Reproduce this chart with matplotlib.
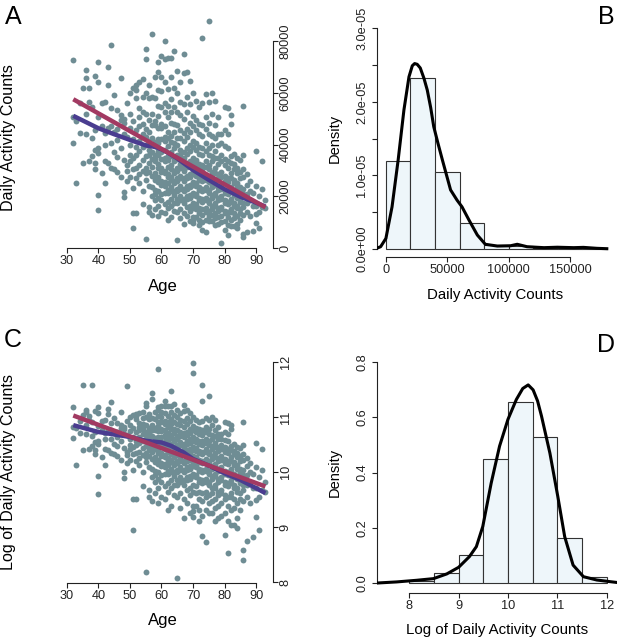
import numpy as np
import matplotlib
matplotlib.use("Agg")
import matplotlib.pyplot as plt

plt.rcParams['font.family'] = ['Liberation Sans', 'DejaVu Sans']

ages = list(range(32, 94))
counts_k = [
    [72.5, 50.5, 40.8],                                   # 32
    [25.3, 49.0],                                         # 33
    [56.0, 44.5],                                         # 34
    [108.0, 62.0, 33.0],                                  # 35
    [68.8, 65.8, 44.0, 52.0],                             # 36
    [61.7, 56.6, 33.5],                                   # 37
    [108.0, 54.7, 42.4, 35.5],                            # 38
    [66.5, 32.8, 45.5, 38.0, 30.5],                       # 39
    [72.0, 64.3, 50.8, 38.6, 36.7, 20.6, 14.8],           # 40
    [56.0, 47.0, 29.0],                                   # 41
    [56.6, 25.0, 44.5, 33.5, 40.0],                       # 42
    [70.0, 63.0, 46.3, 32.8],                             # 43
    [78.4, 47.0, 40.5, 54.0, 31.0],                       # 44
    [59.0, 37.0, 30.5, 45.0],                             # 45
    [53.4, 46.0, 41.8, 35.4, 29.6],                       # 46
    [65.6, 51.5, 38.5, 27.5, 49.5],                       # 47
    [50.0, 48.5, 34.0, 21.9, 19.9, 44.0],                 # 48
    [105.0, 56.0, 43.0, 32.0, 30.0, 26.0],                # 49
    [60.0, 52.0, 40.0, 33.5, 27.5, 46.5, 36.0],           # 50
    [62.0, 49.0, 35.0, 23.1, 13.5, 7.7, 30.5, 42.0],      # 51
    [63.0, 61.0, 58.0, 39.0, 36.0, 27.0, 13.5, 45.5, 31.0],
    [64.0, 54.0, 47.0, 41.5, 37.5, 32.0, 28.5, 25.0, 50.5],
    [65.5, 58.5, 52.5, 44.0, 39.0, 34.0, 30.0, 22.0, 17.0, 48.0],
    [77.0, 73.0, 60.0, 52.0, 46.0, 43.0, 35.5, 31.0, 26.5, 3.6, 40.0, 29.0],
    [63.0, 58.0, 49.5, 45.0, 38.0, 33.0, 29.5, 24.0, 16.0, 14.0, 41.5, 36.0],
    [82.8, 93.0, 58.5, 52.0, 47.5, 42.5, 37.0, 34.5, 31.5, 28.0, 23.5, 20.0, 13.0],
    [66.0, 58.0, 49.0, 47.5, 41.0, 39.5, 36.0, 34.5, 33.5, 29.0, 28.0, 26.5, 22.5, 21.0, 18.5, 15.0],
    [143.0, 72.0, 68.0, 61.0, 55.0, 51.0, 46.5, 42.0, 40.5, 37.5, 36.0, 32.5, 31.0, 27.5, 25.5, 22.0, 19.5, 16.5, 12.5],
    [74.0, 66.0, 60.5, 54.5, 48.0, 46.5, 42.0, 38.0, 37.0, 34.5, 31.0, 29.5, 26.0, 24.5, 21.0, 18.5, 14.0],
    [80.0, 73.0, 64.0, 56.0, 52.5, 47.0, 43.0, 41.5, 38.0, 35.0, 33.5, 30.0, 29.0, 25.5, 24.0, 21.5, 17.0, 13.5],
    [73.5, 61.5, 55.0, 50.5, 45.0, 42.5, 39.5, 35.5, 34.0, 31.5, 28.5, 27.5, 25.0, 22.5, 21.5, 18.0, 15.5, 11.0],
    [97.0, 73.5, 66.0, 57.5, 52.5, 48.5, 43.5, 41.0, 37.0, 35.5, 32.0, 30.5, 27.5, 26.5, 23.5, 22.0, 19.0, 16.5, 12.0],
    [76.0, 62.0, 54.5, 48.0, 45.0, 40.5, 38.5, 35.0, 33.5, 30.0, 29.0, 26.0, 25.0, 22.0, 20.5, 17.5, 14.5],
    [68.5, 60.0, 52.5, 47.5, 42.5, 40.0, 36.0, 34.5, 31.0, 30.0, 27.0, 26.0, 23.0, 22.0, 19.0, 17.5, 14.0, 3.2],
    [64.0, 56.5, 51.5, 45.5, 42.5, 38.0, 36.0, 32.5, 31.0, 28.0, 27.0, 24.0, 23.0, 20.0, 18.5, 15.0, 11.5],
    [75.0, 67.5, 55.5, 50.0, 44.5, 41.5, 37.0, 35.0, 31.5, 30.0, 27.0, 26.0, 23.0, 22.0, 19.0, 17.5, 13.5, 9.5],
    [68.0, 58.5, 52.5, 46.0, 43.0, 38.5, 36.5, 33.0, 31.5, 28.0, 27.0, 24.0, 23.0, 20.0, 19.0, 16.0, 12.5],
    [64.5, 55.5, 48.5, 45.0, 40.0, 37.5, 33.5, 32.0, 28.5, 27.5, 24.5, 23.5, 20.5, 19.5, 16.5, 14.5, 10.5],
    [161.0, 134.0, 60.0, 51.0, 47.0, 41.5, 39.0, 35.0, 33.0, 29.5, 28.5, 25.5, 24.5, 21.5, 20.5, 17.5, 15.5, 12.0, 9.8, 10.8],
    [57.0, 49.5, 45.5, 40.5, 38.0, 34.0, 32.5, 29.0, 28.0, 25.0, 24.0, 21.0, 20.0, 17.0, 15.0, 12.0],
    [54.5, 48.0, 44.0, 39.0, 36.5, 32.5, 31.0, 27.5, 26.5, 23.5, 22.5, 19.5, 18.5, 15.5, 13.5, 11.0, 9.0],
    [108.0, 81.0, 56.0, 47.5, 43.5, 38.5, 36.0, 32.0, 30.5, 27.0, 26.0, 23.0, 22.0, 19.0, 18.0, 15.0, 13.0, 10.0, 6.9],
    [59.5, 50.5, 46.0, 40.5, 37.5, 33.5, 31.5, 28.0, 26.5, 23.5, 22.5, 19.5, 18.5, 15.5, 14.0, 11.0, 6.2],
    [87.7, 56.5, 48.5, 44.0, 38.5, 36.0, 32.0, 30.5, 27.0, 25.5, 22.5, 21.5, 18.5, 17.5, 14.5, 12.5, 10.5],
    [60.0, 52.0, 43.5, 40.0, 35.5, 33.5, 29.5, 28.0, 24.5, 23.5, 20.5, 19.5, 16.5, 15.0, 13.0, 10.5],
    [57.0, 47.5, 42.5, 37.5, 35.0, 31.0, 29.0, 25.5, 24.5, 21.5, 20.5, 17.5, 16.5, 13.5, 11.5, 9.0],
    [50.5, 44.0, 40.0, 35.0, 32.5, 28.5, 27.0, 23.5, 22.5, 19.5, 18.5, 15.5, 14.5, 12.0, 9.5],
    [44.0, 40.5, 36.0, 33.5, 29.5, 27.5, 24.0, 23.0, 20.0, 19.0, 16.0, 15.0, 12.5, 10.0, 2.2],
    [54.5, 45.5, 39.5, 34.5, 32.0, 28.0, 26.0, 22.5, 21.5, 18.5, 17.5, 14.5, 13.5, 10.5, 7.0],
    [54.0, 44.0, 38.5, 33.5, 31.0, 27.0, 25.5, 22.0, 21.0, 18.0, 17.0, 14.0, 12.0, 9.0, 5.1],
    [51.5, 48.0, 35.5, 33.0, 29.0, 27.0, 23.5, 22.0, 19.0, 18.0, 15.0, 14.0, 11.0, 8.5],
    [36.5, 32.5, 30.5, 26.5, 25.0, 21.5, 20.5, 17.5, 16.5, 13.5, 11.5, 8.5],
    [35.0, 31.0, 29.0, 25.0, 23.5, 20.5, 19.5, 16.5, 15.5, 12.5, 9.5, 8.0],
    [34.0, 29.5, 27.0, 23.5, 22.0, 19.0, 18.0, 15.0, 13.5, 11.0],
    [55.0, 36.0, 30.5, 27.5, 23.0, 21.0, 17.5, 16.0, 13.0, 5.4, 4.5],
    [28.5, 24.5, 21.0, 17.5, 14.0, 6.3],                  # 87
    [26.0, 22.0, 18.5, 12.5],                             # 88
    [21.5, 16.5, 6.8],                                    # 89
    [37.5, 24.0, 16.5, 13.3, 9.8],                        # 90
    [20.0, 14.0, 7.7],                                    # 91
    [33.5, 16.0, 23.0],                                   # 92
    [18.5, 15.5],                                         # 93
]

# fitted lines, panel A (thousands)
lin_age = [32, 93]
lin_counts_k = [57.5, 15.8]
lowess_age = [32, 40, 45, 50, 55, 58, 60, 62, 65, 70, 75, 80, 85, 90, 93]
lowess_counts_k = [51.1, 46.3, 44.0, 41.8, 39.7, 39.1, 38.2, 36.9, 34.7, 30.2, 26.4, 22.8, 19.9, 17.6, 16.1]

# fitted lines, panel C (log scale)
log_lin = [11.03, 9.74]
log_lowess_age = [32, 40, 50, 55, 60, 63, 67, 70, 75, 80, 85, 90, 93]
log_lowess = [10.855, 10.73, 10.64, 10.57, 10.54, 10.48, 10.36, 10.24, 10.12, 9.98, 9.86, 9.71, 9.62]

# histogram B (density in 1e-6) and its kernel density curve
b_edges = [0, 20000, 40000, 60000, 80000, 100000, 120000, 140000, 160000, 180000]
b_density = [11.9, 23.2, 10.4, 3.5, 0.45, 0.3, 0.08, 0.08, 0.08]
b_kde_x = [-8.4, -4.3, 0, 5, 10, 14.7, 18.8, 21.5, 23.4, 25.5, 28, 31, 33.7, 36.5, 39, 42.5, 46, 52.7,
           58, 62, 67.7, 74.5, 81, 90.8, 101.6, 107, 115, 128.8, 139.7, 153, 161, 172, 180]
b_kde_y = [0, 0.27, 1.4, 5.7, 12.1, 18.9, 23.4, 24.9, 25.2, 25.1, 24.6, 23.2, 21.6, 19.2, 16.6, 14.3, 12.1, 8.0,
           6.6, 5.7, 3.9, 1.86, 0.6, 0.36, 0.4, 0.6, 0.27, 0.14, 0.2, 0.14, 0.18, 0.05, 0]

# histogram D (log counts) and its kernel density curve
d_edges = [8.0, 8.5, 9.0, 9.5, 10.0, 10.5, 11.0, 11.5, 12.0]
d_density = [0.007, 0.037, 0.10, 0.448, 0.657, 0.531, 0.162, 0.023]
d_kde_x = [7.34, 7.74, 8.15, 8.49, 8.76, 9.0, 9.22, 9.36, 9.49, 9.66, 9.83, 10.0, 10.17, 10.3,
           10.41, 10.51, 10.6, 10.68, 10.85, 11.01, 11.15, 11.32, 11.53, 11.8, 12.07, 12.21]
d_kde_y = [0, 0.004, 0.01, 0.016, 0.033, 0.057, 0.096, 0.132, 0.205, 0.362, 0.496, 0.593, 0.665, 0.705,
           0.718, 0.70, 0.66, 0.605, 0.471, 0.314, 0.168, 0.065, 0.023, 0.011, 0.005, 0.002]

age = np.concatenate([[a] * len(v) for a, v in zip(ages, counts_k)])
counts = np.concatenate(counts_k) * 1000

W, H = 617, 639
fig = plt.figure(figsize=(W / 100, H / 100), dpi=100)

def px_axes(left, top, right, bottom):
    return fig.add_axes([left / W, 1 - bottom / H, (right - left) / W, (bottom - top) / H])

def label(x, y, s, size, rot=0):
    fig.text(x / W, 1 - y / H, s, ha='center', va='center', fontsize=size, rotation=rot)

pt_col = '#6f8d94'
red = '#a23a62'
blue = '#4a3d90'
bar_col = '#eef6fa'
ink = '#222222'
tick_size = 9.2

def r_style(ax, side):
    for s in ['top', 'left', 'right']:
        ax.spines[s].set_visible(False)
    ax.spines[side].set_visible(True)
    for s in ['bottom', side]:
        ax.spines[s].set_linewidth(0.8)
        ax.spines[s].set_color(ink)
    ax.tick_params(direction='out', length=3.6, width=0.8, colors=ink, labelsize=tick_size)
    ax.patch.set_alpha(0)

# ---- A ----
axA = px_axes(65.6, 15, 272.7, 248.3)
axA.scatter(age, counts, s=18, color=pt_col, lw=0, zorder=2)
axA.plot(lowess_age, np.array(lowess_counts_k) * 1000, color=blue, lw=3.2, solid_capstyle='butt', zorder=3)
axA.plot(lin_age, np.array(lin_counts_k) * 1000, color=red, lw=3.2, solid_capstyle='butt', zorder=4)
axA.set_xlim(29.56, 95.3)
axA.set_ylim(0, 90000)
r_style(axA, 'right')
axA.yaxis.tick_right()
axA.set_xticks(range(30, 91, 10))
axA.set_yticks(range(0, 80001, 20000))
axA.spines['bottom'].set_bounds(30, 90)
axA.spines['right'].set_bounds(0, 80000)
axA.tick_params(axis='x', pad=1.5)
axA.tick_params(axis='y', pad=1.5, labelrotation=90)
for t in axA.get_yticklabels():
    t.set_va('center')

# ---- C ----
axC = px_axes(65.6, 355, 272.7, 583.3)
axC.scatter(age, np.log(counts), s=18, color=pt_col, lw=0, zorder=2)
axC.plot(log_lowess_age, log_lowess, color=blue, lw=3.2, solid_capstyle='butt', zorder=3)
axC.plot(lin_age, log_lin, color=red, lw=3.2, solid_capstyle='butt', zorder=4)
axC.set_xlim(29.56, 95.3)
axC.set_ylim(7.98, 12.13)
r_style(axC, 'right')
axC.yaxis.tick_right()
axC.set_xticks(range(30, 91, 10))
axC.set_yticks([8, 9, 10, 11, 12])
axC.spines['bottom'].set_bounds(30, 90)
axC.spines['right'].set_bounds(8, 12)
axC.tick_params(axis='x', pad=1.5)
axC.tick_params(axis='y', pad=1.5, labelrotation=90)
for t in axC.get_yticklabels():
    t.set_va('center')

# ---- B ----
axB = px_axes(376.7, 19.5, 611.7, 256.7)
axB.bar(b_edges[:-1], np.array(b_density) * 1e-6, width=np.diff(b_edges), align='edge',
        color=bar_col, edgecolor='#333333', lw=0.8, zorder=2)
axB.plot(np.array(b_kde_x) * 1000, np.array(b_kde_y) * 1e-6, color='black', lw=2.2, zorder=3)
axB.set_xlim(-7500, 184000)
axB.set_ylim(-1.09e-6, 3.12e-5)
r_style(axB, 'left')
axB.set_xticks([0, 50000, 100000, 150000])
axB.set_xticklabels(['0', '50000', '100000', '150000'])
axB.set_yticks(np.arange(7) * 0.5e-5)
axB.set_yticklabels(['0.0e+00', '', '1.0e-05', '', '2.0e-05', '', '3.0e-05'])
axB.spines['bottom'].set_bounds(0, 150000)
axB.spines['left'].set_bounds(0, 3e-5)
axB.tick_params(axis='x', pad=1.5)
axB.tick_params(axis='y', pad=2.5, labelrotation=90)
for t in axB.get_yticklabels():
    t.set_va('center')

# ---- D ----
axD = px_axes(376.7, 354, 617, 592.7)
axD.bar(d_edges[:-1], d_density, width=np.diff(d_edges), align='edge',
        color=bar_col, edgecolor='#333333', lw=0.8, zorder=2)
axD.plot(d_kde_x, d_kde_y, color='black', lw=2.2, zorder=3)
axD.set_xlim(7.34, 12.21)
axD.set_ylim(-0.035, 0.83)
r_style(axD, 'left')
axD.set_xticks([8, 9, 10, 11, 12])
axD.set_yticks([0, 0.2, 0.4, 0.6, 0.8])
axD.set_yticklabels(['0.0', '0.2', '0.4', '0.6', '0.8'])
axD.spines['bottom'].set_bounds(8, 12)
axD.spines['left'].set_bounds(0, 0.8)
axD.tick_params(axis='x', pad=1.5)
axD.tick_params(axis='y', pad=2.5, labelrotation=90)
for t in axD.get_yticklabels():
    t.set_va('center')

# axis titles and panel letters
label(163, 286, 'Age', 12)
label(9, 138, 'Daily Activity Counts', 11.6, 90)
label(163, 620, 'Age', 12)
label(9, 472, 'Log of Daily Activity Counts', 11.6, 90)
label(335, 138, 'Density', 10.5, 90)
label(495, 295, 'Daily Activity Counts', 10.8)
label(335, 472, 'Density', 10.5, 90)
label(497, 630, 'Log of Daily Activity Counts', 10.8)
label(13, 17, 'A', 18)
label(606, 17, 'B', 18)
label(13, 340, 'C', 18)
label(606, 345, 'D', 18)

fig.savefig('out.png', dpi=100)
